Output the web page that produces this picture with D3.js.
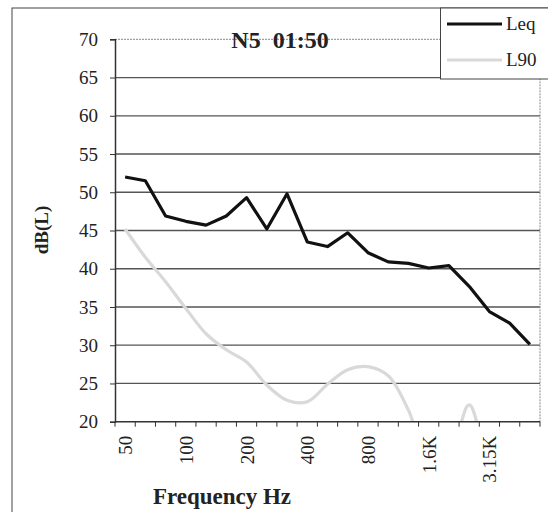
<!DOCTYPE html>
<html><head><meta charset="utf-8">
<script src="https://cdn.jsdelivr.net/npm/d3@7"></script>
<style>
html,body{margin:0;padding:0;background:#fff;}
svg text{font-family:"Liberation Serif","DejaVu Serif",serif !important;fill:#222;}
</style></head>
<body><svg id="c" width="548" height="512"></svg>
<script>
const categories = ["50","63","80","100","125","160","200","250","315","400","500","630","800","1K","1.25K","1.6K","2K","2.5K","3.15K","4K","5K"];
const tickLabels = ["50","","","100","","","200","","","400","","","800","","","1.6K","","","3.15K","",""];
const leq = [52.0,51.5,46.9,46.2,45.7,46.9,49.3,45.2,49.8,43.5,42.9,44.7,42.1,40.9,40.7,40.1,40.4,37.7,34.4,32.9,30.1];
const l90 = [45.2,41.5,38.3,34.8,31.5,29.4,27.8,24.8,22.8,22.6,24.9,26.8,27.2,26.0,21.5,15.0,15.5,22.2,15.0,14.0,13.0];
const yTicks = [20,25,30,35,40,45,50,55,60,65,70];
const seriesNames = ["Leq","L90"];
const title = "N5  01:50";

const FF = '"Liberation Serif","DejaVu Serif",serif';
const svg = d3.select("#c");
const L = 115, R = 540, T = 39.3, B = 421.7;
const x = d3.scaleBand().domain(categories).range([L, R]).paddingInner(0).paddingOuter(0);
const y = d3.scaleLinear().domain([20, 70]).range([B, T]);

// outer frame
svg.append("rect").attr("x", 12).attr("y", 8).attr("width", 560).attr("height", 520)
  .attr("fill", "none").attr("stroke", "#444").attr("stroke-width", 1);

// gridlines
svg.append("g").selectAll("line").data(yTicks.filter(d => d > 20)).join("line")
  .attr("x1", L).attr("x2", R).attr("y1", d => y(d)).attr("y2", d => y(d))
  .attr("stroke", d => d === 70 ? "#888" : "#555").attr("stroke-width", d => d === 70 ? 1 : 1.3)
  .attr("stroke-dasharray", d => d === 70 ? "2,1" : null);
// right plot border
svg.append("line").attr("x1", R).attr("x2", R).attr("y1", T).attr("y2", B)
  .attr("stroke", "#888").attr("stroke-dasharray", "2,1");

// clip
svg.append("clipPath").attr("id", "pc").append("rect")
  .attr("x", L).attr("y", T - 5).attr("width", R - L + 5).attr("height", B - T + 5);

const cx = (d, i) => x(categories[i]) + x.bandwidth() / 2;
const line = d3.line().x(cx).y(d => y(d));
const lineSmooth = d3.line().x(cx).y(d => y(d)).curve(d3.curveCatmullRom.alpha(0.5));

svg.append("path").datum(l90).attr("d", lineSmooth).attr("clip-path", "url(#pc)")
  .attr("fill", "none").attr("stroke", "#d9d9d9").attr("stroke-width", 3.2).attr("stroke-linejoin", "round");
svg.append("path").datum(leq).attr("d", line)
  .attr("fill", "none").attr("stroke", "#111").attr("stroke-width", 3.2).attr("stroke-linejoin", "round");

// y axis
const yAxis = svg.append("g").attr("transform", `translate(${L},0)`)
  .call(d3.axisLeft(y).tickValues(yTicks).tickSize(5).tickPadding(12).tickFormat(d3.format("d")));
yAxis.attr("font-family", FF);
yAxis.select(".domain").attr("stroke", "#333").attr("stroke-width", 1.5);
yAxis.selectAll(".tick line").attr("stroke", "#333");
yAxis.selectAll("text").attr("font-size", 19).attr("fill", "#222").attr("font-family", FF);

// x axis line
svg.append("line").attr("x1", L).attr("x2", R).attr("y1", B).attr("y2", B).attr("stroke", "#333").attr("stroke-width", 1.5);
// x ticks at band boundaries
const bounds = categories.map(c => x(c)).concat([R]);
svg.append("g").selectAll("line").data(bounds).join("line")
  .attr("x1", d => d).attr("x2", d => d).attr("y1", B).attr("y2", B + 5).attr("stroke", "#333");
// x tick labels
svg.append("g").selectAll("text").data(categories).join("text")
  .attr("transform", (d, i) => `translate(${x(d) + x.bandwidth() / 2 + 7},${B + 14}) rotate(-90)`)
  .attr("text-anchor", "end").attr("font-size", 19).attr("font-family", FF)
  .text((d, i) => tickLabels[i]);

// axis titles
svg.append("text").attr("x", 222).attr("y", 504).attr("text-anchor", "middle").attr("font-family", FF)
  .attr("font-size", 23).attr("font-weight", "bold").text("Frequency Hz");
svg.append("text").attr("transform", "translate(48,230) rotate(-90)").attr("text-anchor", "middle").attr("font-family", FF)
  .attr("font-size", 19).attr("font-weight", "bold").text("dB(L)");

// title
svg.append("text").attr("x", 280).attr("y", 48).attr("text-anchor", "middle").attr("font-family", FF)
  .attr("font-size", 24).attr("font-weight", "bold").attr("xml:space", "preserve").style("white-space", "pre").text(title);

// legend
const lg = svg.append("g");
lg.append("rect").attr("x", 440.5).attr("y", 8).attr("width", 120).attr("height", 71)
  .attr("fill", "#fff").attr("stroke", "#444");
const lc = ["#111", "#d9d9d9"];
seriesNames.forEach((n, i) => {
  const yy = 24 + i * 36;
  lg.append("line").attr("x1", 447).attr("x2", 502).attr("y1", yy).attr("y2", yy)
    .attr("stroke", lc[i]).attr("stroke-width", 3);
  lg.append("text").attr("x", 506).attr("y", yy + 6).attr("font-size", 19).attr("font-family", FF).text(n);
});
</script></body></html>
